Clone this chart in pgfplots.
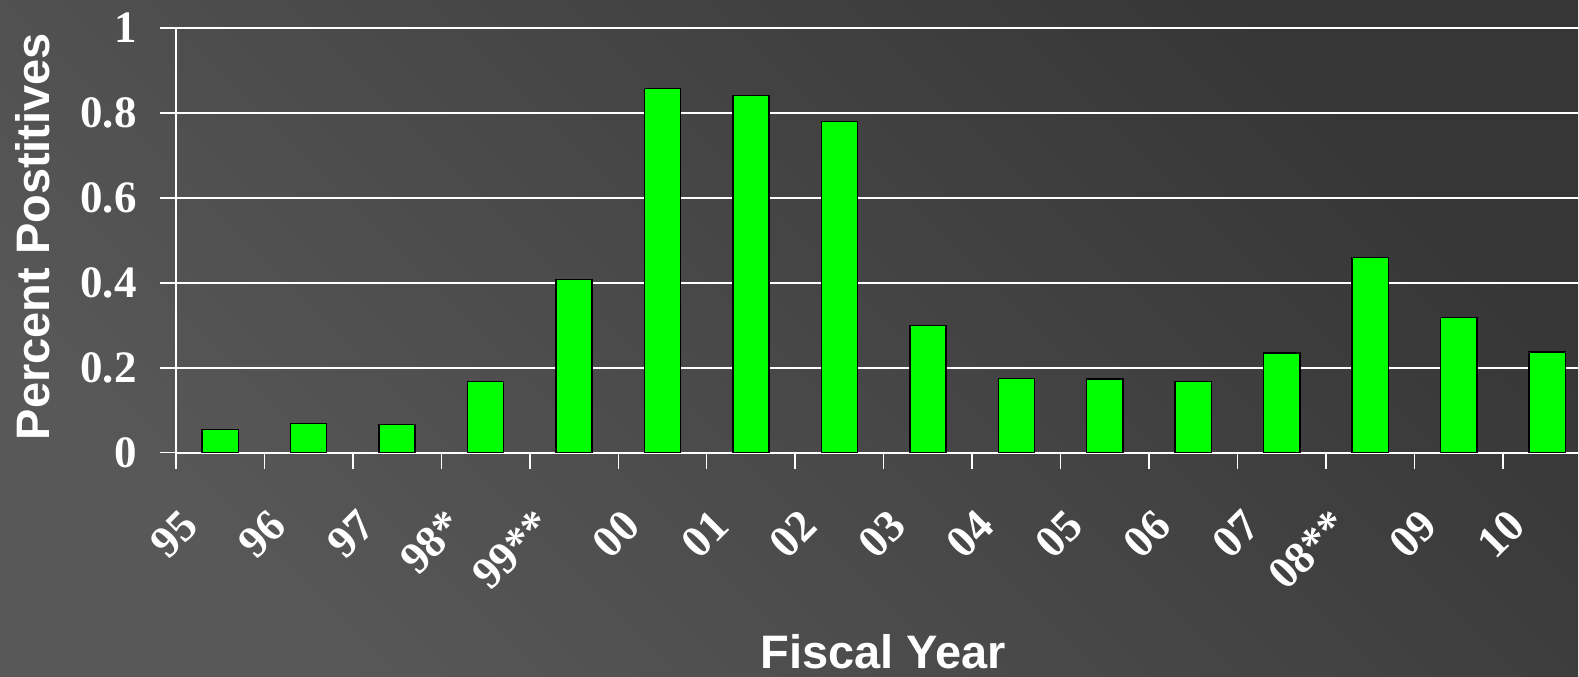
\documentclass[border=0pt]{standalone}
\usepackage{fontspec}
\setmainfont{Liberation Serif}
\setsansfont{Liberation Sans}
\usepackage{pgfplots}
\pgfplotsset{compat=1.18}
\definecolor{bgTop}{HTML}{363636}
\definecolor{bgBot}{HTML}{585858}
\definecolor{barg}{RGB}{0,255,0}
\begin{document}
\begin{tikzpicture}
\shade[top color=bgTop, bottom color=bgBot, shading angle=-45] (0,0) rectangle (789.5pt,338.5pt);
\begin{axis}[
  at={(88pt,112pt)}, anchor=south west,
  scale only axis, width=701.5pt, height=212.5pt,
  xmin=-0.5, xmax=15.348, ymin=0, ymax=1,
  ybar, bar width=0.41,
  axis x line*=bottom, axis y line*=left,
  axis line style={white, line width=0.75pt},
  xtick={0,1,2,3,4,5,6,7,8,9,10,11,12,13,14,15},
  xticklabels={95,96,97,98*,99**,00,01,02,03,04,05,06,07,08**,09,10},
  minor xtick={-0.5,0.5,1.5,2.5,3.5,4.5,5.5,6.5,7.5,8.5,9.5,10.5,11.5,12.5,13.5,14.5},
  major x tick style={draw=none},
  minor x tick style={white, line width=0.75pt},
  ytick={0,0.2,0.4,0.6,0.8,1},
  tick align=outside, major tick length=8pt, minor tick length=8pt,
  tick style={white, line width=0.75pt},
  ymajorgrids, grid style={white, line width=1pt},
  ticklabel style={font=\fontsize{22.5}{22.5}\selectfont\bfseries, text=white},
  /pgf/number format/assume math mode=true,
  yticklabel style={anchor=east, inner sep=0pt, xshift=-11.5pt},
  xticklabel style={xshift=-15pt, yshift=-24.5pt, rotate=45, anchor=east, inner sep=0pt},
  xlabel={Fiscal Year},
  ylabel={Percent Postitives},
  label style={font=\sffamily\bfseries\fontsize{23.5}{23.5}\selectfont, text=white, inner sep=0pt},
  xlabel style={at={(axis description cs:0.5046,-0.5082)}, anchor=base},
  ylabel style={at={(axis description cs:-0.0898,0.509)}, anchor=base},
]
\addplot[ybar, bar width=0.41, fill=barg, draw=black, line width=0.75pt] coordinates {
(0,0.055) (1,0.069) (2,0.066) (3,0.168) (4,0.408) (5,0.858) (6,0.841) (7,0.780)
(8,0.299) (9,0.175) (10,0.173) (11,0.168) (12,0.235) (13,0.460) (14,0.318) (15,0.237)
};
\end{axis}
\end{tikzpicture}
\end{document}
